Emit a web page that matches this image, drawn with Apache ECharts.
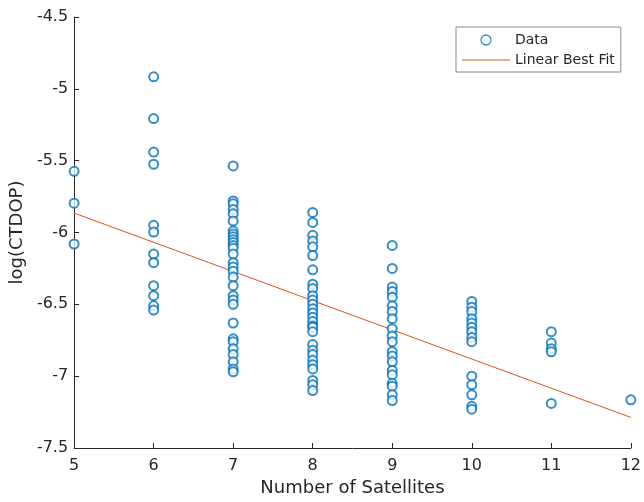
<!DOCTYPE html>
<html>
<head>
<meta charset="utf-8">
<script src="https://cdn.jsdelivr.net/npm/echarts@6/dist/echarts.min.js"></script>
<style>html,body{margin:0;padding:0;background:#fff;}#c{width:644px;height:502px;}</style>
</head>
<body>
<div id="c"></div>
<script>
// Observed log(CTDOP) values by number of satellites
var sats5 = [-5.574, -5.796, -6.08];
var sats6 = [-4.916, -5.207, -5.44, -5.525, -5.95, -5.997, -6.15, -6.21, -6.37, -6.44, -6.51, -6.54];
var sats7 = [-5.537, -5.78, -5.80, -5.84, -5.87, -5.92, -5.99, -6.01, -6.03, -6.05, -6.07, -6.09, -6.11, -6.15, -6.21, -6.24, -6.27, -6.31, -6.37, -6.44, -6.47, -6.50, -6.63, -6.74, -6.76, -6.81, -6.85, -6.90, -6.95, -6.97];
var sats8 = [-5.86, -5.93, -6.02, -6.06, -6.10, -6.16, -6.26, -6.36, -6.39, -6.44, -6.47, -6.50, -6.53, -6.56, -6.59, -6.62, -6.65, -6.66, -6.69, -6.78, -6.82, -6.85, -6.89, -6.92, -6.95, -7.03, -7.06, -7.10];
var sats9 = [-6.09, -6.25, -6.38, -6.41, -6.45, -6.51, -6.55, -6.60, -6.67, -6.72, -6.76, -6.83, -6.86, -6.90, -6.96, -6.99, -7.05, -7.07, -7.13, -7.17];
var sats10 = [-6.48, -6.52, -6.55, -6.60, -6.63, -6.66, -6.69, -6.73, -6.76, -7.00, -7.06, -7.13, -7.21, -7.23];
var sats11 = [-6.69, -6.77, -6.81, -6.83, -7.19];
var sats12 = [-7.165];
// Linear best fit endpoints
var fitX = [5, 12];
var fitY = [-5.865, -7.287];

var groups = [[5, sats5], [6, sats6], [7, sats7], [8, sats8], [9, sats9], [10, sats10], [11, sats11], [12, sats12]];
var scatterData = [];
groups.forEach(function (g) { g[1].forEach(function (v) { scatterData.push([g[0], v]); }); });
var fitData = fitX.map(function (x, i) { return [x, fitY[i]]; });

var chart = echarts.init(document.getElementById('c'));
var axisColor = '#262626';
var font = 'DejaVu Sans';
chart.setOption({
  animation: false,
  backgroundColor: '#fff',
  grid: { left: 74, right: 11, top: 17, bottom: 54 },
  legend: {
    left: 456, top: 27,
    orient: 'vertical',
    backgroundColor: '#fff',
    borderColor: '#8a8a8a', borderWidth: 1, borderRadius: 0,
    padding: [6, 6, 5, 6],
    itemGap: 6,
    itemWidth: 48, itemHeight: 10,
    symbolKeepAspect: true,
    textStyle: { fontFamily: font, fontSize: 14, color: '#262626' },
    data: [
      { name: 'Data', icon: 'circle', itemStyle: { color: '#fff', borderColor: '#0072BD', borderWidth: 1.3 } },
      { name: 'Linear Best Fit', icon: 'path://M0,0H48V1H0Z', itemStyle: { color: '#D95319', borderWidth: 0 } }
    ]
  },
  xAxis: {
    type: 'value', min: 5, max: 12, interval: 1,
    name: 'Number of Satellites', nameLocation: 'middle', nameGap: 31,
    nameTextStyle: { fontFamily: font, fontSize: 18, color: axisColor },
    axisLine: { show: true, lineStyle: { color: axisColor, width: 1 } },
    axisTick: { show: true, inside: true, length: 5, lineStyle: { color: axisColor } },
    axisLabel: { fontFamily: font, fontSize: 16, color: axisColor, margin: 10 },
    splitLine: { show: false }
  },
  yAxis: {
    type: 'value', min: -7.5, max: -4.5, interval: 0.5,
    name: 'log(CTDOP)', nameLocation: 'middle', nameGap: 44,
    nameTextStyle: { fontFamily: font, fontSize: 18, color: axisColor },
    axisLine: { show: true, lineStyle: { color: axisColor, width: 1 } },
    axisTick: { show: true, inside: true, length: 5, lineStyle: { color: axisColor } },
    axisLabel: { fontFamily: font, fontSize: 16, color: axisColor, margin: 6 },
    splitLine: { show: false }
  },
  series: [
    {
      name: 'Data', type: 'scatter', data: scatterData,
      symbol: 'emptyCircle', symbolSize: 9,
      itemStyle: { color: '#0072BD', borderColor: '#0072BD', borderWidth: 1.2 },
      z: 3
    },
    {
      name: 'Linear Best Fit', type: 'line', data: fitData,
      symbol: 'none', showSymbol: false,
      lineStyle: { color: '#D95319', width: 1 },
      itemStyle: { color: '#D95319' },
      z: 2
    }
  ]
});
</script>
</body>
</html>
